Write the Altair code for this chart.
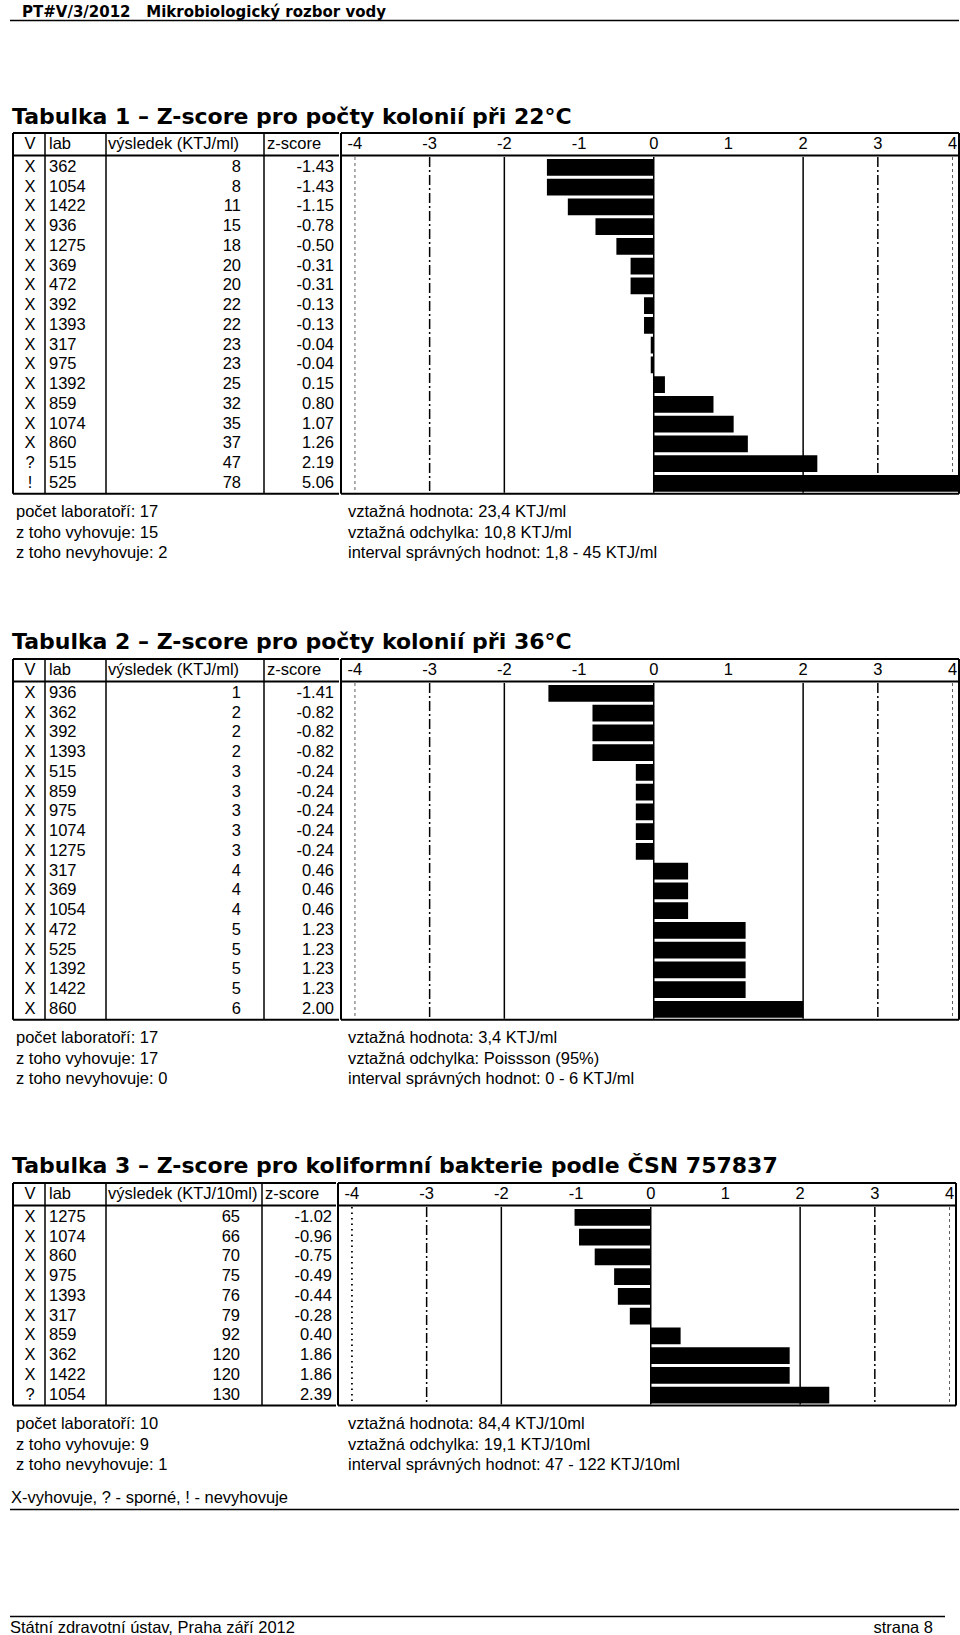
import altair as alt
import pandas as pd

REG = "Liberation Sans"
BOLD = "DejaVu Sans"
FS = 16.5
PITCH = 19.75
HDR = 25

# ---------------- data ----------------
page_header = "PT#V/3/2012\u00a0\u00a0\u00a0Mikrobiologický rozbor vody"
titles = [
    "Tabulka 1 – Z-score pro počty kolonií při 22°C",
    "Tabulka 2 – Z-score pro počty kolonií při 36°C",
    "Tabulka 3 – Z-score pro koliformní bakterie podle ČSN 757837",
]
col_heads_1 = ["V", "lab", "výsledek (KTJ/ml)", "z-score"]
col_heads_3 = ["V", "lab", "výsledek (KTJ/10ml)", "z-score"]
ticks = [-4, -3, -2, -1, 0, 1, 2, 3, 4]

t1_flag = ["X"] * 15 + ["?", "!"]
t1_lab = [362, 1054, 1422, 936, 1275, 369, 472, 392, 1393, 317, 975, 1392, 859, 1074, 860, 515, 525]
t1_res = [8, 8, 11, 15, 18, 20, 20, 22, 22, 23, 23, 25, 32, 35, 37, 47, 78]
t1_z = [-1.43, -1.43, -1.15, -0.78, -0.50, -0.31, -0.31, -0.13, -0.13, -0.04, -0.04,
        0.15, 0.80, 1.07, 1.26, 2.19, 5.06]

t2_flag = ["X"] * 17
t2_lab = [936, 362, 392, 1393, 515, 859, 975, 1074, 1275, 317, 369, 1054, 472, 525, 1392, 1422, 860]
t2_res = [1, 2, 2, 2, 3, 3, 3, 3, 3, 4, 4, 4, 5, 5, 5, 5, 6]
t2_z = [-1.41, -0.82, -0.82, -0.82, -0.24, -0.24, -0.24, -0.24, -0.24,
        0.46, 0.46, 0.46, 1.23, 1.23, 1.23, 1.23, 2.00]

t3_flag = ["X"] * 9 + ["?"]
t3_lab = [1275, 1074, 860, 975, 1393, 317, 859, 362, 1422, 1054]
t3_res = [65, 66, 70, 75, 76, 79, 92, 120, 120, 130]
t3_z = [-1.02, -0.96, -0.75, -0.49, -0.44, -0.28, 0.40, 1.86, 1.86, 2.39]

foot_left = [
    ["počet laboratoří: 17", "z toho vyhovuje: 15", "z toho nevyhovuje: 2"],
    ["počet laboratoří: 17", "z toho vyhovuje: 17", "z toho nevyhovuje: 0"],
    ["počet laboratoří: 10", "z toho vyhovuje: 9", "z toho nevyhovuje: 1"],
]
foot_right = [
    ["vztažná hodnota: 23,4 KTJ/ml", "vztažná odchylka: 10,8 KTJ/ml",
     "interval správných hodnot: 1,8 - 45 KTJ/ml"],
    ["vztažná hodnota: 3,4 KTJ/ml", "vztažná odchylka: Poissson (95%)",
     "interval správných hodnot: 0 - 6 KTJ/ml"],
    ["vztažná hodnota: 84,4 KTJ/10ml", "vztažná odchylka: 19,1 KTJ/10ml",
     "interval správných hodnot: 47 - 122 KTJ/10ml"],
]
legend_text = "X-vyhovuje, ? - sporné, ! - nevyhovuje"
page_footer_left = "Státní zdravotní ústav, Praha září 2012"
page_footer_right = "strana 8"

# ---------------- helpers ----------------
def T(s, x, y, align="left", baseline="middle", font=REG, size=FS, weight="normal"):
    return alt.Chart(alt.Data(values=[{"t": s}])).mark_text(
        align=align, baseline=baseline, font=font, fontSize=size,
        fontWeight=weight, color="black"
    ).encode(text="t:N", x=alt.value(x), y=alt.value(y))


def HL(x1, x2, y, w=1.5):
    return alt.Chart(alt.Data(values=[{}])).mark_rule(color="black", strokeWidth=w).encode(
        x=alt.value(x1), x2=alt.value(x2), y=alt.value(y))


def VL(x, y1, y2, w=1.5):
    return alt.Chart(alt.Data(values=[{}])).mark_rule(color="black", strokeWidth=w).encode(
        x=alt.value(x), y=alt.value(y1), y2=alt.value(y2))


def table(flags, labs, res, zs, heads, L, cdiv, res_x, z_x, zhead_x, W, minus4_dotted):
    n = len(labs)
    H = HDR + n * PITCH + 2
    df = pd.DataFrame({
        "flag": flags,
        "lab": [str(v) for v in labs],
        "res": [str(v) for v in res],
        "z": zs,
        "ztxt": [f"{v:.2f}" for v in zs],
        "row": list(range(n)),
    })
    ysc = alt.Scale(domain=[-HDR / PITCH, n + 2 / PITCH], reverse=True, nice=False, zero=False)
    base = alt.Chart(df).transform_calculate(yc="datum.row + 0.5")

    def col(field, x, align):
        return base.mark_text(align=align, baseline="middle", font=REG, fontSize=FS,
                              color="black").encode(
            x=alt.value(x), y=alt.Y("yc:Q", scale=ysc, axis=None), text=f"{field}:N")

    left_layers = [
        col("flag", 30, "center"), col("lab", 49, "left"),
        col("res", res_x, "right"), col("ztxt", z_x, "right"),
        T(heads[0], 30, 12, align="center"), T(heads[1], 49, 12),
        T(heads[2], 108, 12), T(heads[3], zhead_x, 12),
        HL(13, L, 1, 2), HL(13, L, 23.5, 2), HL(13, L, H - 1, 2),
        VL(13, 1, H - 1, 2), VL(45, 1, H - 1), VL(106, 1, H - 1), VL(cdiv, 1, H - 1),
    ]
    left = alt.layer(*left_layers).properties(width=L, height=H)

    xsc = alt.Scale(domain=[-4.2, 4.1], nice=False, zero=False)
    tick_df = pd.DataFrame({"t": ticks, "lab": [str(t) for t in ticks]})
    labels = alt.Chart(tick_df).mark_text(
        align="center", baseline="middle", font=REG, fontSize=FS, color="black"
    ).encode(x=alt.X("t:Q", scale=xsc, axis=None), y=alt.value(12), text="lab:N")

    def refl(vals, **kw):
        return alt.Chart(pd.DataFrame({"t": vals})).mark_rule(color="black", **kw).encode(
            x=alt.X("t:Q", scale=xsc, axis=None), y=alt.value(HDR), y2=alt.value(H - 2))

    if minus4_dotted:
        r4 = [refl([-4], strokeWidth=1.8, strokeDash=[1.5, 4]),
              refl([4], strokeWidth=0.8, strokeDash=[3, 3], opacity=0.8)]
    else:
        r4 = [refl([-4, 4], strokeWidth=0.8, strokeDash=[3, 3], opacity=0.8)]
    r3 = refl([-3, 3], strokeWidth=1.5, strokeDash=[10, 3, 2, 3])
    r2 = refl([-2, 0, 2], strokeWidth=1.5)

    bars = alt.Chart(df).transform_calculate(
        y0="datum.row + 0.1", y1="datum.row + 0.95", zero="0"
    ).mark_rect(color="black", clip=True).encode(
        x=alt.X("z:Q", scale=xsc, axis=None), x2="zero:Q",
        y=alt.Y("y0:Q", scale=ysc, axis=None), y2="y1:Q")

    right_layers = r4 + [r3, r2, bars, labels,
                         HL(1, W - 1, 1, 2), HL(1, W - 1, 23.5, 2), HL(1, W - 1, H - 1, 2),
                         VL(1, 1, H - 1, 2), VL(W - 1, 1, H - 1, 2)]
    right = alt.layer(*right_layers).properties(width=W, height=H)
    return alt.hconcat(left, right, spacing=0)


def footer_block(k):
    out = []
    ys = [17.25, 37.75, 58.25]
    for s, y in zip(foot_left[k], ys):
        out.append(T(s, 16, y))
    for s, y in zip(foot_right[k], ys):
        out.append(T(s, 348, y))
    return out


# ---------------- sections ----------------
S0 = alt.layer(
    T(page_header, 22, 17, baseline="alphabetic", font=BOLD, size=15, weight="bold"),
    HL(10, 959, 20.5, 1.3),
    T(titles[0], 12, 124, baseline="alphabetic", font=BOLD, size=22, weight="bold"),
).properties(width=960, height=132)

T1 = table(t1_flag, t1_lab, t1_res, t1_z, col_heads_1, 339, 264, 241, 334, 267, 620, False)

h1 = 162.25
S1 = alt.layer(*footer_block(0),
               T(titles[1], 12, h1 - 8, baseline="alphabetic", font=BOLD, size=22, weight="bold")
               ).properties(width=960, height=h1)

T2 = table(t2_flag, t2_lab, t2_res, t2_z, col_heads_1, 339, 264, 241, 334, 267, 620, False)

h2 = 160.25
S2 = alt.layer(*footer_block(1),
               T(titles[2], 12, h2 - 8, baseline="alphabetic", font=BOLD, size=22, weight="bold")
               ).properties(width=960, height=h2)

T3 = table(t3_flag, t3_lab, t3_res, t3_z, col_heads_3, 336, 262, 240, 332, 265, 620, True)

h3 = 230.5
S3 = alt.layer(*footer_block(2),
               T(legend_text, 11, 90.5),
               HL(10, 959, 102.5, 1.5),
               HL(10, 945, 209.5, 1.3),
               T(page_footer_left, 10, 220.5),
               T(page_footer_right, 933, 220.5, align="right"),
               ).properties(width=960, height=h3)

chart = alt.VConcatChart(
    vconcat=[S0, T1, S1, T2, S2, T3, S3], spacing=0, padding=0
).configure_view(stroke=None)

chart.save("out.html", embed_options={"renderer": "svg", "actions": False})
